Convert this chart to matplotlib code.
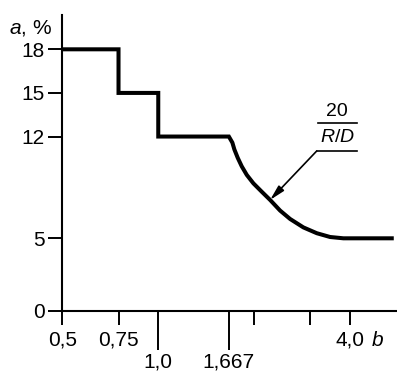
import numpy as np
import matplotlib
matplotlib.use("Agg")
import matplotlib.pyplot as plt
from matplotlib.ticker import FixedLocator, FixedFormatter
from matplotlib.lines import Line2D

plt.rcParams['font.family'] = ['Liberation Sans', 'DejaVu Sans']
plt.rcParams['mathtext.fontset'] = 'custom'
plt.rcParams['mathtext.rm'] = 'Liberation Sans'
plt.rcParams['mathtext.it'] = 'Liberation Sans:italic'

# ступенчатая часть
step_b = [0.5, 0.75, 0.75, 1.0, 1.0, 1.667]
step_a = [18, 18, 15, 15, 12, 12]

# кривая 20/(R/D), точки
curve_b = [1.667, 1.710, 1.735, 1.778, 1.830, 1.898, 1.991, 2.116, 2.247,
           2.415, 2.597, 2.859, 3.151, 3.469, 3.82, 4.0, 5.5]
curve_a = [12.0, 11.58, 11.11, 10.53, 9.95, 9.36, 8.78, 8.20, 7.64,
           6.91, 6.33, 5.75, 5.35, 5.09, 5.0, 5.0, 5.0]

# подписи осей
major_b = [0.5, 0.75, 2.0, 3.0, 4.0]
major_lbl = ['0,5', '0,75', '', '', '4,0']
long_b = [1.0, 1.667]
long_lbl = ['1,0', '1,667']
yticks = [0, 5, 12, 15, 18]

W, H = 397, 372
fig = plt.figure(figsize=(W / 100, H / 100), dpi=100)
ax = fig.add_axes([62.5 / W, 1 - 311 / H, (W - 62.5) / W, 296 / H])

b = step_b + curve_b[1:]
a = step_a + curve_a[1:]
ax.plot(b, a, color='black', lw=2.9, solid_joinstyle='miter',
        solid_capstyle='butt', clip_on=False)

ax.set_xscale('log')
ax.set_xlim(0.5, 5.63)
ax.set_ylim(0, 20.36)

ax.xaxis.set_major_locator(FixedLocator(major_b))
ax.xaxis.set_major_formatter(FixedFormatter(major_lbl))
ax.xaxis.set_minor_locator(FixedLocator(long_b))
ax.xaxis.set_minor_formatter(FixedFormatter(long_lbl))
ax.set_yticks(yticks)
ax.set_yticklabels([str(v) for v in yticks])

ax.tick_params(axis='both', which='major', length=10, width=1.4,
               labelsize=15, color='black')
ax.tick_params(axis='x', which='major', pad=4.3)
ax.tick_params(axis='y', which='major', pad=2.9)
ax.tick_params(axis='x', which='minor', length=28, width=1.4,
               labelsize=15, pad=2.2)

for s in ['top', 'right']:
    ax.spines[s].set_visible(False)
for s in ['left', 'bottom']:
    ax.spines[s].set_linewidth(1.5)

# подписи осей
fig.text(31 / W, 1 - 28 / H, '$a$, %', fontsize=15, ha='center', va='center')
fig.text(377 / W, 1 - 340 / H, '$b$', fontsize=15, ha='center', va='center')

# выноска 20/(R/D)
fig.text(337 / W, 1 - 111 / H, '20', fontsize=14, ha='center', va='center')
fig.text(337 / W, 1 - 137 / H, '$R/D$', fontsize=14, ha='center', va='center')
fig.add_artist(Line2D([317.7 / W, 357.3 / W], [1 - 123.3 / H, 1 - 123.3 / H],
                      color='black', lw=1.2))
fig.add_artist(Line2D([316.7 / W, 357.3 / W], [1 - 151 / H, 1 - 151 / H],
                      color='black', lw=1.2))
ax.annotate('', xy=(curve_b[8], curve_a[8]), xycoords='data',
            xytext=(316.7 / W, 1 - 151 / H), textcoords='figure fraction',
            arrowprops=dict(arrowstyle='-|>,head_length=0.9,head_width=0.22',
                            color='black', lw=1.2, shrinkA=0, shrinkB=0))

fig.savefig('out.png', dpi=100)
